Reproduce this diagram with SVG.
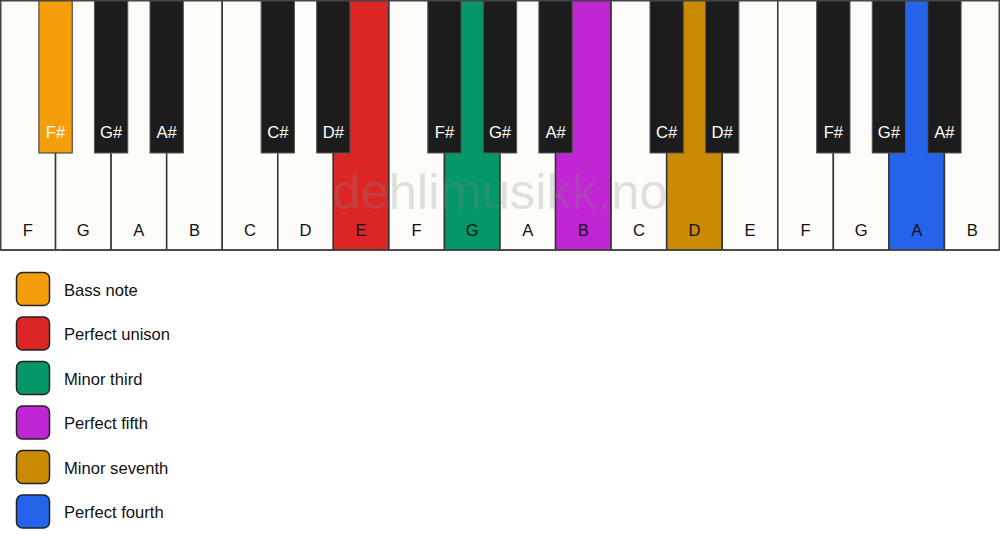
<svg xmlns="http://www.w3.org/2000/svg" width="1000" height="550" viewBox="0 0 1000 550">
<style>
.w{fill:#fdfcf9;stroke:#333;stroke-width:1.5}
.b{fill:#1c1c1c;stroke:#555;stroke-width:1}
.lw{font-family:"Liberation Sans",Arial,sans-serif;font-size:16.6px;fill:#111;text-anchor:middle}
.lb{font-family:"Liberation Sans",Arial,sans-serif;font-size:16.6px;fill:#fff;text-anchor:middle}
.lg{font-family:"Liberation Sans",Arial,sans-serif;font-size:16.6px;fill:#111}
.sw{stroke:#222;stroke-width:1.5}
.wm{font-family:"Liberation Sans",Arial,sans-serif;font-size:50.7px;fill:#888;fill-opacity:0.25;text-anchor:middle}
</style>
<rect width="1000" height="550" fill="#ffffff"/>
<g id="white-keys">
<g id="w0"><rect class="w" x="0" y="0" width="55.56" height="250"/><text class="lw" x="27.78" y="236">F</text></g>
<g id="w1"><rect class="w" x="55.56" y="0" width="55.56" height="250"/><text class="lw" x="83.33" y="236">G</text></g>
<g id="w2"><rect class="w" x="111.11" y="0" width="55.56" height="250"/><text class="lw" x="138.89" y="236">A</text></g>
<g id="w3"><rect class="w" x="166.67" y="0" width="55.56" height="250"/><text class="lw" x="194.44" y="236">B</text></g>
<g id="w4"><rect class="w" x="222.22" y="0" width="55.56" height="250"/><text class="lw" x="250" y="236">C</text></g>
<g id="w5"><rect class="w" x="277.78" y="0" width="55.56" height="250"/><text class="lw" x="305.56" y="236">D</text></g>
<g id="w6"><rect class="w" x="333.33" y="0" width="55.56" height="250" style="fill:#dc2626"/><text class="lw" x="361.11" y="236">E</text></g>
<g id="w7"><rect class="w" x="388.89" y="0" width="55.56" height="250"/><text class="lw" x="416.67" y="236">F</text></g>
<g id="w8"><rect class="w" x="444.44" y="0" width="55.56" height="250" style="fill:#059669"/><text class="lw" x="472.22" y="236">G</text></g>
<g id="w9"><rect class="w" x="500" y="0" width="55.56" height="250"/><text class="lw" x="527.78" y="236">A</text></g>
<g id="w10"><rect class="w" x="555.56" y="0" width="55.56" height="250" style="fill:#c026d3"/><text class="lw" x="583.33" y="236">B</text></g>
<g id="w11"><rect class="w" x="611.11" y="0" width="55.56" height="250"/><text class="lw" x="638.89" y="236">C</text></g>
<g id="w12"><rect class="w" x="666.67" y="0" width="55.56" height="250" style="fill:#ca8a04"/><text class="lw" x="694.44" y="236">D</text></g>
<g id="w13"><rect class="w" x="722.22" y="0" width="55.56" height="250"/><text class="lw" x="750" y="236">E</text></g>
<g id="w14"><rect class="w" x="777.78" y="0" width="55.56" height="250"/><text class="lw" x="805.56" y="236">F</text></g>
<g id="w15"><rect class="w" x="833.33" y="0" width="55.56" height="250"/><text class="lw" x="861.11" y="236">G</text></g>
<g id="w16"><rect class="w" x="888.89" y="0" width="55.56" height="250" style="fill:#2563eb"/><text class="lw" x="916.67" y="236">A</text></g>
<g id="w17"><rect class="w" x="944.44" y="0" width="55.56" height="250"/><text class="lw" x="972.22" y="236">B</text></g>
</g>
<text class="wm" x="500" y="209">dehlimusikk.no</text>
<g id="black-keys">
<g id="b1"><rect class="b" x="38.89" y="0" width="33.33" height="153" style="fill:#f59e0b;stroke:#333"/><text class="lb" x="55.56" y="138">F#</text></g>
<g id="b2"><rect class="b" x="94.44" y="0" width="33.33" height="153"/><text class="lb" x="111.11" y="138">G#</text></g>
<g id="b3"><rect class="b" x="150" y="0" width="33.33" height="153"/><text class="lb" x="166.67" y="138">A#</text></g>
<g id="b5"><rect class="b" x="261.11" y="0" width="33.33" height="153"/><text class="lb" x="277.78" y="138">C#</text></g>
<g id="b6"><rect class="b" x="316.67" y="0" width="33.33" height="153"/><text class="lb" x="333.33" y="138">D#</text></g>
<g id="b8"><rect class="b" x="427.78" y="0" width="33.33" height="153"/><text class="lb" x="444.44" y="138">F#</text></g>
<g id="b9"><rect class="b" x="483.33" y="0" width="33.33" height="153"/><text class="lb" x="500" y="138">G#</text></g>
<g id="b10"><rect class="b" x="538.89" y="0" width="33.33" height="153"/><text class="lb" x="555.56" y="138">A#</text></g>
<g id="b12"><rect class="b" x="650" y="0" width="33.33" height="153"/><text class="lb" x="666.67" y="138">C#</text></g>
<g id="b13"><rect class="b" x="705.56" y="0" width="33.33" height="153"/><text class="lb" x="722.22" y="138">D#</text></g>
<g id="b15"><rect class="b" x="816.67" y="0" width="33.33" height="153"/><text class="lb" x="833.33" y="138">F#</text></g>
<g id="b16"><rect class="b" x="872.22" y="0" width="33.33" height="153"/><text class="lb" x="888.89" y="138">G#</text></g>
<g id="b17"><rect class="b" x="927.78" y="0" width="33.33" height="153"/><text class="lb" x="944.44" y="138">A#</text></g>
</g>
<rect x="0.75" y="0.75" width="998.5" height="249.25" fill="none" stroke="#444" stroke-width="1.5"/>
<g id="legend">
<g id="lg-bass"><rect class="sw" x="16.5" y="272.5" width="33" height="33" rx="6" fill="#f59e0b"/><text class="lg" x="64" y="295.5">Bass note</text></g>
<g id="lg-unison"><rect class="sw" x="16.5" y="317" width="33" height="33" rx="6" fill="#dc2626"/><text class="lg" x="64" y="340">Perfect unison</text></g>
<g id="lg-third"><rect class="sw" x="16.5" y="361.5" width="33" height="33" rx="6" fill="#059669"/><text class="lg" x="64" y="384.5">Minor third</text></g>
<g id="lg-fifth"><rect class="sw" x="16.5" y="406" width="33" height="33" rx="6" fill="#c026d3"/><text class="lg" x="64" y="429">Perfect fifth</text></g>
<g id="lg-seventh"><rect class="sw" x="16.5" y="450.5" width="33" height="33" rx="6" fill="#ca8a04"/><text class="lg" x="64" y="473.5">Minor seventh</text></g>
<g id="lg-fourth"><rect class="sw" x="16.5" y="495" width="33" height="33" rx="6" fill="#2563eb"/><text class="lg" x="64" y="518">Perfect fourth</text></g>
</g>
</svg>
